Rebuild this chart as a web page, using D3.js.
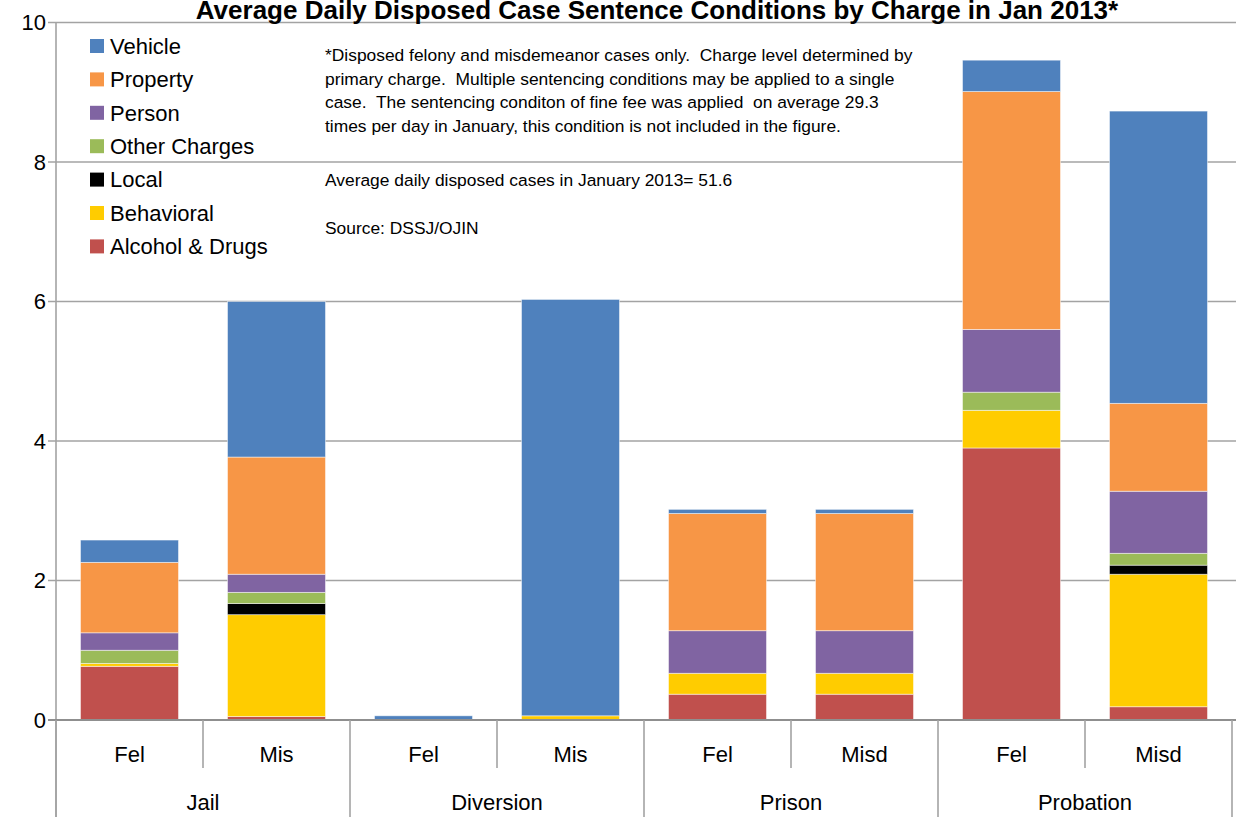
<!DOCTYPE html>
<html>
<head>
  <script src="https://d3js.org/d3.v7.min.js"></script>
  <style>
    body { margin: 0; background: #ffffff; }
    text { font-family: 'Liberation Sans', Arial, sans-serif; fill: #000; }
    .note { white-space: pre; }
  </style>
</head>
<body>
  <div id="chart"></div>
  <script>
    // bar slots, left to right
    const barKeys = ["JailFel", "JailMis", "DivFel", "DivMis", "PriFel", "PriMisd", "ProbFel", "ProbMisd"];
    const subLabels = ["Fel", "Mis", "Fel", "Mis", "Fel", "Misd", "Fel", "Misd"];
    const groupLabels = ["Jail", "Diversion", "Prison", "Probation"];

    // series, stacked bottom to top
    const seriesNames = ["Alcohol & Drugs", "Behavioral", "Local", "Other Charges", "Person", "Property", "Vehicle"];
    const seriesColors = ["#C0504D", "#FFCC00", "#000000", "#9BBB59", "#8064A2", "#F79646", "#4F81BD"];

    const alcoholDrugs = [0.77, 0.05, 0.00, 0.00, 0.37, 0.37, 3.90, 0.19];
    const behavioral   = [0.04, 1.46, 0.00, 0.06, 0.30, 0.30, 0.54, 1.90];
    const local        = [0.00, 0.16, 0.00, 0.00, 0.00, 0.00, 0.00, 0.13];
    const otherCharges = [0.19, 0.16, 0.00, 0.00, 0.00, 0.00, 0.26, 0.17];
    const person       = [0.25, 0.26, 0.00, 0.00, 0.61, 0.61, 0.90, 0.89];
    const property     = [1.01, 1.68, 0.00, 0.00, 1.68, 1.68, 3.41, 1.26];
    const vehicle      = [0.32, 2.23, 0.06, 5.97, 0.06, 0.06, 0.45, 4.19];

    const yTicks = [0, 2, 4, 6, 8, 10];

    const noteLines = [
      "*Disposed felony and misdemeanor cases only.  Charge level determined by",
      "primary charge.  Multiple sentencing conditions may be applied to a single",
      "case.  The sentencing conditon of fine fee was applied  on average 29.3",
      "times per day in January, this condition is not included in the figure."
    ];
    const noteAvg = "Average daily disposed cases in January 2013= 51.6";
    const noteSource = "Source: DSSJ/OJIN";
    const title = "Average Daily Disposed Case Sentence Conditions by Charge in Jan 2013*";

    const W = 1236, H = 817;
    const plotLeft = 56, plotRight = 1232, plotTop = 22.5, plotBottom = 720;
    const gridColor = "#a3a3a3";

    const svg = d3.select("#chart").append("svg")
      .attr("width", W)
      .attr("height", H);

    const x = d3.scaleBand()
      .domain(barKeys)
      .range([plotLeft, plotRight])
      .paddingInner(1 / 3)
      .paddingOuter(1 / 6);

    const y = d3.scaleLinear()
      .domain([0, 10])
      .range([plotBottom, plotTop]);

    // gridlines + y ticks
    svg.append("g")
      .selectAll("line")
      .data(yTicks.filter(function (d) { return d > 0; }))
      .enter()
      .append("line")
      .attr("x1", plotLeft - 8)
      .attr("x2", W)
      .attr("y1", function (d) { return y(d); })
      .attr("y2", function (d) { return y(d); })
      .style("stroke", gridColor)
      .style("stroke-width", 1.6);

    svg.append("g")
      .selectAll("text")
      .data(yTicks)
      .enter()
      .append("text")
      .attr("x", 46)
      .attr("y", function (d) { return y(d); })
      .attr("dy", "0.35em")
      .attr("text-anchor", "end")
      .style("font-size", "22px")
      .text(function (d) { return d; });

    // stacked bars
    const rows = barKeys.map(function (k, i) {
      return {
        key: k,
        "Alcohol & Drugs": alcoholDrugs[i],
        "Behavioral": behavioral[i],
        "Local": local[i],
        "Other Charges": otherCharges[i],
        "Person": person[i],
        "Property": property[i],
        "Vehicle": vehicle[i]
      };
    });

    const stacked = d3.stack().keys(seriesNames)(rows);

    const colour = d3.scaleOrdinal().domain(seriesNames).range(seriesColors);

    svg.append("g")
      .selectAll("g")
      .data(stacked)
      .enter()
      .append("g")
      .style("fill", function (d) { return colour(d.key); })
      .selectAll("rect")
      .data(function (d) { return d.filter(function (s) { return s[1] - s[0] > 0; }); })
      .enter()
      .append("rect")
      .attr("x", function (d) { return x(d.data.key); })
      .attr("width", x.bandwidth())
      .attr("y", function (d) { return y(d[1]); })
      .attr("height", function (d) { return y(d[0]) - y(d[1]); })
      .style("stroke", "rgba(255,255,255,0.6)")
      .style("stroke-width", 0.8);

    // axes lines
    svg.append("line")
      .attr("x1", plotLeft).attr("x2", plotLeft)
      .attr("y1", plotTop).attr("y2", H)
      .style("stroke", gridColor).style("stroke-width", 1.6);

    svg.append("line")
      .attr("x1", plotLeft - 8).attr("x2", W)
      .attr("y1", plotBottom).attr("y2", plotBottom)
      .style("stroke", "#8f8f8f").style("stroke-width", 2.2);

    // category separators
    const step = x.step();
    const bounds = d3.range(barKeys.length + 1).map(function (i) { return plotLeft + i * step; });

    svg.append("g")
      .selectAll("line")
      .data(bounds)
      .enter()
      .append("line")
      .attr("x1", function (d) { return d; })
      .attr("x2", function (d) { return d; })
      .attr("y1", plotBottom)
      .attr("y2", function (d, i) { return i % 2 === 0 ? H : 768; })
      .style("stroke", gridColor)
      .style("stroke-width", 1.6);

    svg.append("g")
      .selectAll("text")
      .data(barKeys)
      .enter()
      .append("text")
      .attr("x", function (d) { return x(d) + x.bandwidth() / 2; })
      .attr("y", 754)
      .attr("dy", "0.35em")
      .attr("text-anchor", "middle")
      .style("font-size", "22px")
      .text(function (d, i) { return subLabels[i]; });

    svg.append("g")
      .selectAll("text")
      .data(groupLabels)
      .enter()
      .append("text")
      .attr("x", function (d, i) { return plotLeft + (2 * i + 1) * step; })
      .attr("y", 802)
      .attr("dy", "0.35em")
      .attr("text-anchor", "middle")
      .style("font-size", "22px")
      .text(function (d) { return d; });

    // title (the source image crops its top edge)
    svg.append("text")
      .attr("x", 657)
      .attr("y", 19)
      .attr("text-anchor", "middle")
      .style("font-size", "26px")
      .style("font-weight", "bold")
      .text(title);

    // legend
    const legendNames = seriesNames.slice().reverse();
    const legend = svg.append("g")
      .selectAll("g")
      .data(legendNames)
      .enter()
      .append("g")
      .attr("transform", function (d, i) { return "translate(90," + (46 + i * 33.4) + ")"; });

    legend.append("rect")
      .attr("x", 0)
      .attr("y", -7)
      .attr("width", 14)
      .attr("height", 14)
      .style("fill", function (d) { return colour(d); });

    legend.append("text")
      .attr("x", 20)
      .attr("y", 0)
      .attr("dy", "0.35em")
      .style("font-size", "22px")
      .text(function (d) { return d; });

    // notes
    svg.append("g")
      .selectAll("text")
      .data(noteLines)
      .enter()
      .append("text")
      .attr("class", "note")
      .attr("x", 325)
      .attr("y", function (d, i) { return 55 + i * 23.7; })
      .attr("dy", "0.35em")
      .style("font-size", "17.4px")
      .text(function (d) { return d; });

    svg.append("text")
      .attr("class", "note")
      .attr("x", 325).attr("y", 180).attr("dy", "0.35em")
      .style("font-size", "17.4px")
      .text(noteAvg);

    svg.append("text")
      .attr("class", "note")
      .attr("x", 325).attr("y", 228).attr("dy", "0.35em")
      .style("font-size", "17.4px")
      .text(noteSource);
  </script>
</body>
</html>
